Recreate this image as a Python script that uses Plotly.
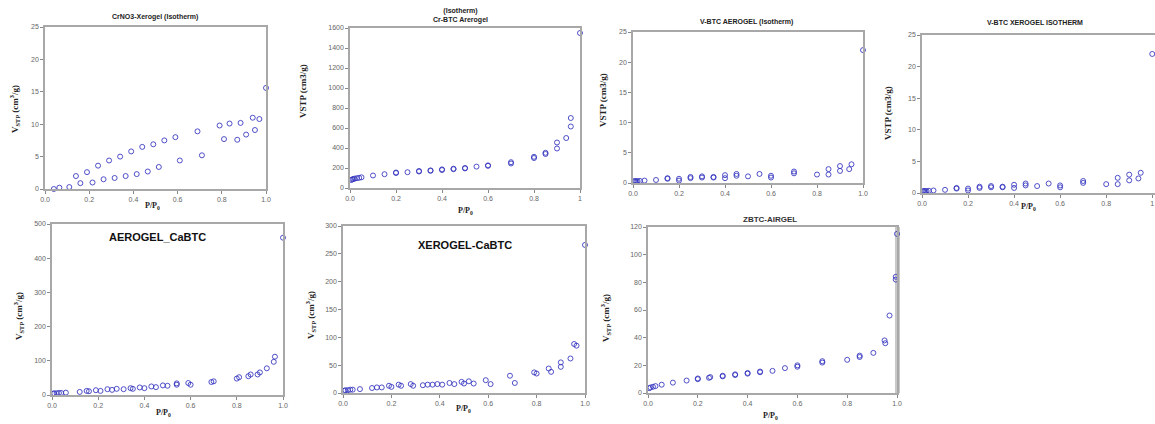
import plotly.graph_objects as go

W, H = 1155, 424

# ---------------- data ----------------
# Panel 1: CrNO3-Xerogel
p1_ads_x = [0.04, 0.065, 0.11, 0.16, 0.215, 0.265, 0.315, 0.365, 0.415, 0.465, 0.515, 0.61, 0.71, 0.81, 0.87, 0.91, 0.95]
p1_ads_y = [0.0, 0.2, 0.3, 0.9, 1.0, 1.5, 1.7, 2.0, 2.3, 2.7, 3.4, 4.4, 5.2, 7.7, 7.6, 8.4, 9.1]
p1_des_x = [0.14, 0.19, 0.24, 0.29, 0.34, 0.39, 0.44, 0.49, 0.54, 0.59, 0.69, 0.79, 0.835, 0.885, 0.94, 0.97, 1.0]
p1_des_y = [2.0, 2.6, 3.6, 4.4, 5.0, 5.8, 6.5, 6.9, 7.5, 8.0, 8.9, 9.8, 10.1, 10.2, 11.0, 10.8, 15.6]

# Panel 2: Cr-BTC Aerogel
p2_ads_x = [0.005, 0.01, 0.015, 0.02, 0.03, 0.04, 0.05, 0.1, 0.15, 0.2, 0.25, 0.3, 0.35, 0.4, 0.45, 0.5, 0.55, 0.6, 0.7, 0.8, 0.85, 0.9, 0.94, 0.96, 1.0]
p2_ads_y = [80, 86, 90, 94, 98, 102, 107, 125, 138, 150, 158, 165, 172, 180, 188, 196, 214, 222, 245, 300, 340, 395, 500, 615, 1550]
p2_des_x = [0.2, 0.3, 0.35, 0.4, 0.45, 0.5, 0.6, 0.7, 0.8, 0.85, 0.9, 0.96]
p2_des_y = [155, 170, 176, 186, 193, 200, 226, 258, 312, 352, 455, 700]

# Panel 3: V-BTC Aerogel
p3_ads_x = [0.005, 0.01, 0.015, 0.02, 0.03, 0.05, 0.1, 0.15, 0.2, 0.25, 0.3, 0.35, 0.4, 0.45, 0.5, 0.55, 0.6, 0.7, 0.8, 0.85, 0.9, 0.94, 1.0]
p3_ads_y = [0.3, 0.3, 0.3, 0.3, 0.35, 0.4, 0.5, 0.7, 0.4, 0.8, 0.9, 0.9, 0.8, 1.2, 1.1, 1.5, 0.9, 1.6, 1.4, 1.4, 2.0, 2.3, 22.0]
p3_des_x = [0.15, 0.2, 0.25, 0.3, 0.35, 0.4, 0.45, 0.6, 0.7, 0.85, 0.9, 0.95]
p3_des_y = [0.8, 0.7, 1.0, 1.1, 1.0, 1.3, 1.5, 1.2, 1.9, 2.3, 2.8, 3.1]

# Panel 4: V-BTC Xerogel
p4_ads_x = [0.005, 0.01, 0.015, 0.02, 0.03, 0.05, 0.1, 0.15, 0.2, 0.25, 0.3, 0.35, 0.4, 0.45, 0.5, 0.55, 0.6, 0.7, 0.8, 0.85, 0.9, 0.94, 1.0]
p4_ads_y = [0.3, 0.3, 0.3, 0.3, 0.35, 0.4, 0.5, 0.7, 0.4, 0.8, 0.9, 0.9, 0.8, 1.2, 1.1, 1.5, 0.9, 1.6, 1.4, 1.4, 2.0, 2.3, 22.0]
p4_des_x = [0.15, 0.2, 0.25, 0.3, 0.35, 0.4, 0.45, 0.6, 0.7, 0.85, 0.9, 0.95]
p4_des_y = [0.8, 0.7, 1.0, 1.1, 1.0, 1.3, 1.5, 1.2, 1.9, 2.4, 2.9, 3.2]

# Panel 5: AEROGEL_CaBTC
p5_ads_x = [0.005, 0.01, 0.02, 0.03, 0.04, 0.06, 0.12, 0.16, 0.21, 0.26, 0.31, 0.35, 0.4, 0.45, 0.5, 0.54, 0.6, 0.69, 0.8, 0.85, 0.89, 0.93, 0.96, 1.0]
p5_ads_y = [4, 5, 5, 6, 6, 7, 9, 11, 12, 15, 17, 18, 20, 23, 27, 30, 30, 38, 48, 55, 60, 78, 97, 460]
p5_des_x = [0.15, 0.19, 0.24, 0.28, 0.34, 0.38, 0.43, 0.48, 0.54, 0.59, 0.7, 0.81, 0.86, 0.9, 0.965]
p5_des_y = [12, 14, 17, 18, 20, 22, 25, 28, 34, 35, 40, 52, 60, 66, 112]

# Panel 6: XEROGEL-CaBTC
p6_ads_x = [0.005, 0.01, 0.02, 0.03, 0.04, 0.07, 0.12, 0.16, 0.2, 0.24, 0.29, 0.33, 0.37, 0.41, 0.46, 0.5, 0.54, 0.61, 0.71, 0.8, 0.86, 0.9, 0.94, 1.0]
p6_ads_y = [4, 5, 5, 6, 6, 7, 9, 10, 11, 13, 13, 14, 15, 15, 16, 17, 17, 16, 18, 35, 38, 47, 62, 266]
p6_des_x = [0.14, 0.19, 0.23, 0.28, 0.35, 0.39, 0.44, 0.49, 0.52, 0.59, 0.69, 0.79, 0.85, 0.9, 0.955, 0.965]
p6_des_y = [10, 13, 15, 16, 15, 16, 18, 20, 21, 23, 31, 37, 44, 55, 88, 85]

# Panel 7: ZBTC-AIRGEL
p7_ads_x = [0.005, 0.01, 0.02, 0.03, 0.055, 0.1, 0.155, 0.2, 0.245, 0.3, 0.35, 0.4, 0.45, 0.5, 0.55, 0.6, 0.7, 0.8, 0.85, 0.905, 0.953, 0.97, 0.995, 1.0]
p7_ads_y = [3.5, 4, 4.5, 5, 6, 7.5, 9, 10, 11, 12, 13, 14, 15, 16, 18, 19, 22, 24, 26, 29, 36, 56, 82, 115]
p7_des_x = [0.2, 0.25, 0.3, 0.35, 0.4, 0.45, 0.6, 0.7, 0.85, 0.95, 0.995]
p7_des_y = [10.5, 11.5, 12.5, 13.5, 14.5, 15.5, 20, 23, 27, 38, 84]

x_ticks = [0, 0.2, 0.4, 0.6, 0.8, 1.0]
x_labels_a = ["0.0", "0.2", "0.4", "0.6", "0.8", "1.0"]
x_labels_b = ["0.0", "0.2", "0.4", "0.6", "0.8", "1"]
y_ticks_1 = [0, 5, 10, 15, 20, 25]
y_ticks_2 = [0, 200, 400, 600, 800, 1000, 1200, 1400, 1600]
y_ticks_5 = [0, 100, 200, 300, 400, 500]
y_ticks_6 = [0, 50, 100, 150, 200, 250, 300]
y_ticks_7 = [0, 20, 40, 60, 80, 100, 120]

titles = ["CrNO3-Xerogel (Isotherm)", "(Isotherm)<br>Cr-BTC Arerogel", "V-BTC AEROGEL (Isotherm)",
          "V-BTC XEROGEL ISOTHERM", "AEROGEL_CaBTC", "XEROGEL-CaBTC", "ZBTC-AIRGEL"]

VLAB_SUB = "V<sub>STP</sub> (cm<sup>3</sup>/g)"
VLAB = "VSTP (cm3/g)"
PLAB = "P/P<sub>0</sub>"

# ---------------- layout helpers ----------------
def px(x):
    return x / W

def py(y):
    return 1 - y / H

MARK = dict(symbol="circle-open", size=5, color="rgba(50,50,190,0.85)", line=dict(width=1))
AX_COL = "#a8a8a8"
TICKFONT = dict(family="Liberation Sans, Arial", size=7, color="#666666")

panels = [
    dict(xd=(45, 266), yd=(27, 189), xr=[0, 1.0], yr=[0, 25], xt=x_labels_a, yt=y_ticks_1,
         data=[(p1_ads_x, p1_ads_y), (p1_des_x, p1_des_y)]),
    dict(xd=(350, 580), yd=(28, 188), xr=[0, 1.0], yr=[0, 1600], xt=x_labels_b, yt=y_ticks_2,
         data=[(p2_ads_x, p2_ads_y), (p2_des_x, p2_des_y)]),
    dict(xd=(633, 863), yd=(32, 183), xr=[0, 1.0], yr=[0, 25], xt=x_labels_a, yt=y_ticks_1,
         data=[(p3_ads_x, p3_ads_y), (p3_des_x, p3_des_y)]),
    dict(xd=(922, 1155), yd=(35, 193), xr=[0, 1.012], yr=[0, 25], xt=x_labels_b, yt=y_ticks_1,
         data=[(p4_ads_x, p4_ads_y), (p4_des_x, p4_des_y)]),
    dict(xd=(52, 283), yd=(224, 395), xr=[0, 1.0], yr=[0, 500], xt=x_labels_a, yt=y_ticks_5,
         data=[(p5_ads_x, p5_ads_y), (p5_des_x, p5_des_y)]),
    dict(xd=(343, 585), yd=(226, 393), xr=[0, 1.0], yr=[0, 300], xt=x_labels_a, yt=y_ticks_6,
         data=[(p6_ads_x, p6_ads_y), (p6_des_x, p6_des_y)]),
    dict(xd=(648, 897), yd=(227, 393), xr=[0, 1.0], yr=[0, 120], xt=x_labels_a, yt=y_ticks_7,
         data=[(p7_ads_x, p7_ads_y), (p7_des_x, p7_des_y)]),
]

fig = go.Figure()
layout = {}
for i, p in enumerate(panels):
    n = i + 1
    xa = "x" if n == 1 else f"x{n}"
    ya = "y" if n == 1 else f"y{n}"
    for (xs, ys) in p["data"]:
        fig.add_trace(go.Scatter(x=xs, y=ys, mode="markers", marker=MARK, xaxis=xa, yaxis=ya,
                                 showlegend=False, cliponaxis=False))
    common = dict(showgrid=False, zeroline=False, showline=True, linecolor=AX_COL, linewidth=1.5,
                  mirror=True, ticks="outside", ticklen=3, tickcolor="#888", tickwidth=1,
                  tickfont=TICKFONT, fixedrange=True, automargin=False)
    layout["xaxis" if n == 1 else f"xaxis{n}"] = dict(
        domain=[px(p["xd"][0]), px(p["xd"][1])], range=p["xr"], anchor=ya,
        tickvals=x_ticks, ticktext=p["xt"], **common)
    layout["yaxis" if n == 1 else f"yaxis{n}"] = dict(
        domain=[py(p["yd"][1]), py(p["yd"][0])], range=p["yr"], anchor=xa,
        tickvals=p["yt"], **common)

fig.update_layout(**layout)

annotations = []
def ann(text, x, y, size=8, bold=True, family="Liberation Sans, Arial", angle=0, color="#222"):
    annotations.append(dict(text=f"<b>{text}</b>" if bold else text, x=px(x), y=py(y), xref="paper", yref="paper",
                            showarrow=False, textangle=angle, xanchor="center", yanchor="middle",
                            font=dict(size=size, family=family, color=color)))

# panel titles
ann(titles[0], 155, 17, size=7)
ann(titles[1], 460, 16, size=7)
ann(titles[2], 746, 22, size=7)
ann(titles[3], 1035, 23, size=7)
ann(titles[4], 157, 237, size=11, color="#111")
ann(titles[5], 465, 245, size=11, color="#111")
ann(titles[6], 770, 219, size=8, color="#333")

# y axis titles
SERIF = "Liberation Serif, Times New Roman"
ann(VLAB_SUB, 15, 109, size=9, family=SERIF, angle=-90)
ann(VLAB, 303, 91, size=9, family=SERIF, angle=-90)
ann(VLAB, 603, 100, size=9, family=SERIF, angle=-90)
ann(VLAB, 888, 113, size=9, family=SERIF, angle=-90)
ann(VLAB_SUB, 18, 316, size=9, family=SERIF, angle=-90)
ann(VLAB_SUB, 310, 315, size=9, family=SERIF, angle=-90)
ann(VLAB_SUB, 605, 318, size=9, family=SERIF, angle=-90)

# x axis titles
ann(PLAB, 152, 206, size=8, family=SERIF)
ann(PLAB, 465, 211, size=8, family=SERIF)
ann(PLAB, 1028, 207, size=8, family=SERIF)
ann(PLAB, 163, 413, size=8, family=SERIF)
ann(PLAB, 463, 409, size=8, family=SERIF)
ann(PLAB, 770, 416, size=8, family=SERIF)

# grey bar at right edge of panel 7 frame
shapes = [dict(type="rect", xref="paper", yref="paper", x0=px(895), x1=px(900), y0=py(393), y1=py(227),
               fillcolor="#c8c8c8", line=dict(width=0), layer="below")]

fig.update_layout(width=W, height=H, margin=dict(l=0, r=0, t=0, b=0, autoexpand=False),
                  paper_bgcolor="white", plot_bgcolor="white", annotations=annotations, shapes=shapes)

fig.write_html("out.html", config={"displayModeBar": False},
               post_script="document.body.style.margin='0';document.body.style.overflow='hidden';")
